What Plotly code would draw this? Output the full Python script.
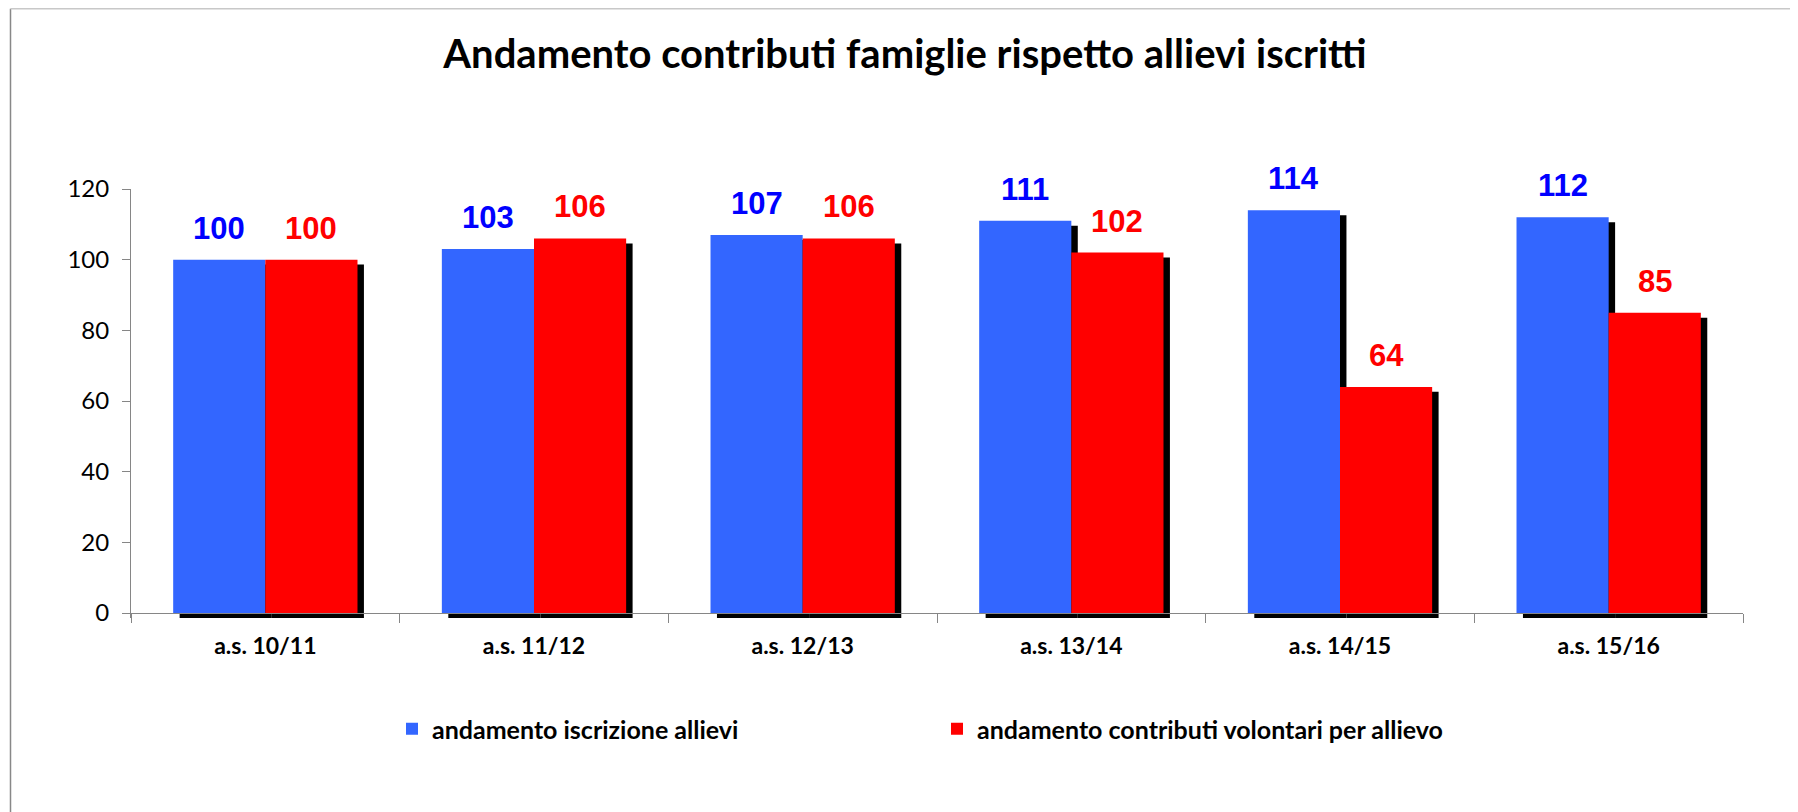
import plotly.graph_objects as go

categories = ["a.s. 10/11", "a.s. 11/12", "a.s. 12/13", "a.s. 13/14", "a.s. 14/15", "a.s. 15/16"]
iscrizione = [100, 103, 107, 111, 114, 112]
contributi = [100, 106, 106, 102, 64, 85]
series_names = ["andamento iscrizione allievi", "andamento contributi volontari per allievo"]
ytick_vals = [0, 20, 40, 60, 80, 100, 120]

PAGE_OFF = 8        # default body margin of the html page
W, H = 1790, 804
ML, MR, MT, MB = 123, 55, 181, 194
BLUE, RED = "#3366FF", "#FF0000"
LBL_BLUE, LBL_RED = "#0000FF", "#FF0000"
AXIS = "#868686"

bw = 0.343          # bar width (category units)
sdx = 0.024         # shadow horizontal offset (category units)
sdy = 1.4           # shadow vertical offset (value units)
ymin, ymax = -sdy, 120

fig = go.Figure()
# shadows
for vals, off in ((iscrizione, -bw), (contributi, 0.0)):
    fig.add_trace(go.Bar(x=categories, y=vals, base=-sdy, offset=off + sdx, width=bw,
                         marker=dict(color="black", line=dict(width=0)),
                         showlegend=False, hoverinfo="skip"))
fig.add_trace(go.Bar(x=categories, y=iscrizione, offset=-bw, width=bw, name=series_names[0],
                     marker=dict(color=BLUE, line=dict(width=0))))
fig.add_trace(go.Bar(x=categories, y=contributi, offset=0.0, width=bw, name=series_names[1],
                     marker=dict(color=RED, line=dict(width=0))))

plot_w = W - ML - MR
cat_px = plot_w / len(categories)
annots = []
for vals, sign, col in ((iscrizione, -1, LBL_BLUE), (contributi, 1, LBL_RED)):
    for c, v in zip(categories, vals):
        annots.append(dict(x=c, y=v, xref="x", yref="y", text=str(v), showarrow=False,
                           xshift=sign * bw / 2 * cat_px, yshift=12, yanchor="bottom",
                           font=dict(family="Liberation Sans", size=31, color=col, weight="bold")))

plot_h = H - MT - MB
def px_to_paper_x(px):
    return (px - PAGE_OFF - ML) / plot_w
def px_to_paper_y(py):
    return (H - MB - (py - PAGE_OFF)) / plot_h

shapes = [
    dict(type="line", xref="paper", yref="paper", x0=px_to_paper_x(10.5), x1=px_to_paper_x(10.5),
         y0=px_to_paper_y(8.7), y1=px_to_paper_y(820), line=dict(color="#888888", width=1.5)),
    dict(type="line", xref="paper", yref="paper", x0=px_to_paper_x(10.5), x1=px_to_paper_x(1810),
         y0=px_to_paper_y(8.7), y1=px_to_paper_y(8.7), line=dict(color="#C8C8C8", width=1.5)),
]

fig.update_layout(
    width=W, height=H, margin=dict(l=ML, r=MR, t=MT, b=MB, autoexpand=False),
    paper_bgcolor="white", plot_bgcolor="white", barmode="overlay",
    title=dict(text="Andamento contributi famiglie rispetto allievi iscritti", x=(905 - PAGE_OFF) / W,
               xanchor="center", xref="container", y=1 - (54 - PAGE_OFF) / H, yref="container",
               yanchor="middle", font=dict(family="Lato", size=40, color="black", weight="bold")),
    xaxis=dict(type="category", anchor="free", position=(0 - ymin) / (ymax - ymin),
               showline=True, linecolor=AXIS, linewidth=1, ticks="outside", ticklen=9, tickcolor=AXIS,
               tickson="boundaries", showgrid=False, ticklabelstandoff=12,
               tickfont=dict(family="Lato", size=23, color="black", weight="bold")),
    yaxis=dict(range=[ymin, ymax], tickvals=ytick_vals, showline=True, linecolor=AXIS, linewidth=1,
               ticks="outside", ticklen=8, tickcolor=AXIS, showgrid=False, zeroline=False,
               ticklabelstandoff=8, tickfont=dict(family="Lato", size=24, color="black")),
    legend=dict(orientation="h", x=px_to_paper_x(392), xanchor="left", y=px_to_paper_y(729),
                yanchor="middle", entrywidth=500, entrywidthmode="pixels", bgcolor="rgba(0,0,0,0)",
                font=dict(family="Lato", size=25, color="black", weight="bold"), traceorder="normal"),
    annotations=annots, shapes=shapes,
)

fig.write_html("out.html")
